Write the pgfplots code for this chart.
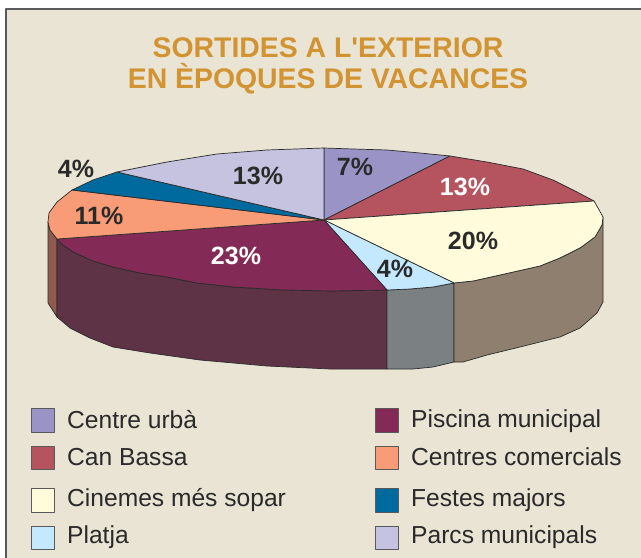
\documentclass[border=0pt]{standalone}
\usepackage{pgfplots}
\pgfplotsset{compat=1.18}
\usepackage{fontspec}
\setmainfont{Liberation Sans}
\definecolor{bg}{HTML}{E9E4D4}
\definecolor{cUrba}{HTML}{9A93C6}
\definecolor{cBassa}{HTML}{B5535E}
\definecolor{cCine}{HTML}{FFFBDB}
\definecolor{cPlatja}{HTML}{C4E8FD}
\definecolor{cPisc}{HTML}{832B56}
\definecolor{cCome}{HTML}{F89B77}
\definecolor{cFest}{HTML}{006A9E}
\definecolor{cParc}{HTML}{C6C3E1}
\definecolor{sPisc}{HTML}{5F3346}
\definecolor{sPlatja}{HTML}{7B8083}
\definecolor{sCine}{HTML}{8F7F6E}
\definecolor{sCome}{HTML}{905A4E}
\definecolor{titol}{HTML}{D29432}
\definecolor{tx}{HTML}{2A2A2A}
\definecolor{lin}{HTML}{2B2B2B}
\newcommand{\pct}[4]{\node[text=#4,font=\fontsize{25bp}{25bp}\selectfont\bfseries] at (axis cs:#1,#2) {#3};}
\newcommand{\leg}[3]{\node[anchor=west,text=tx,inner sep=0pt,font=\fontsize{24.6bp}{24.6bp}\selectfont] at (axis cs:#1,#2) {#3};}
\begin{document}
\begin{tikzpicture}
\begin{axis}[width=641bp,height=558bp,scale only axis,xmin=0,xmax=641,ymin=0,ymax=558,y dir=reverse,hide axis,
  every axis plot/.append style={draw=lin,line width=0.7bp,line join=round,mark=none}]
% page margin, keeps the full extent
\addplot[fill=white,draw=none] coordinates {(0,0) (641,0) (641,558) (0,558)} -- cycle;
% background panel
\addplot[fill=bg,draw=black!65,line width=1.4bp] coordinates {(6,9) (660,9) (660,580) (6,580)} -- cycle;
% side faces
\addplot[fill=sCome] coordinates {(48,222) (48,303) (57,317) (57,239) (50,230)} -- cycle;
\addplot[fill=sPisc] coordinates {(57,239) (63,245) (73,252) (93,261) (113,267) (140,273) (167,277) (197,283) (233,287) (283,290) (330,291) (387,290) (387,369) (330,369) (267,366) (200,360) (150,353) (113,347) (90,338) (70,328) (57,317)} -- cycle;
\addplot[fill=sPlatja] coordinates {(387,290) (410,289) (433,287) (454,283) (454,362) (433,367) (413,369) (387,369)} -- cycle;
\addplot[fill=sCine] coordinates {(454,283) (463,282) (473,281) (500,275) (540,266) (560,258) (580,248) (595,237) (602,225) (603,217) (603,302) (597,313) (580,328) (560,337) (520,347) (487,355) (463,362) (454,362)} -- cycle;
% top faces
\addplot[fill=cUrba] coordinates {(324,220) (324,148) (353,149) (387,150) (420,153) (450,156)} -- cycle;
\addplot[fill=cBassa] coordinates {(324,220) (450,156) (487,162) (523,169) (553,180) (577,192) (594,201)} -- cycle;
\addplot[fill=cCine] coordinates {(324,220) (594,201) (598,208) (603,217) (602,225) (595,237) (580,248) (560,258) (540,266) (500,275) (473,281) (463,282) (454,283)} -- cycle;
\addplot[fill=cPlatja] coordinates {(324,220) (454,283) (433,287) (410,289) (387,290)} -- cycle;
\addplot[fill=cPisc] coordinates {(324,220) (387,290) (330,291) (283,290) (233,287) (197,283) (167,277) (140,273) (113,267) (93,261) (73,252) (63,245) (57,239)} -- cycle;
\addplot[fill=cCome] coordinates {(324,220) (57,239) (50,230) (48,222) (49,213) (57,202) (72,190)} -- cycle;
\addplot[fill=cFest] coordinates {(324,220) (72,190) (93,180) (117,172)} -- cycle;
\addplot[fill=cParc] coordinates {(324,220) (117,172) (167,162) (217,154) (267,150) (324,148)} -- cycle;
% legend swatches
\addplot[fill=cUrba,draw=black!65] coordinates {(31,408) (54,408) (54,432) (31,432)} -- cycle;
\addplot[fill=cBassa,draw=black!65] coordinates {(31,446) (54,446) (54,469) (31,469)} -- cycle;
\addplot[fill=cCine,draw=black!65] coordinates {(31,488) (54,488) (54,512) (31,512)} -- cycle;
\addplot[fill=cPlatja,draw=black!65] coordinates {(31,526) (54,526) (54,549) (31,549)} -- cycle;
\addplot[fill=cPisc,draw=black!65] coordinates {(375,408) (398,408) (398,432) (375,432)} -- cycle;
\addplot[fill=cCome,draw=black!65] coordinates {(375,446) (398,446) (398,469) (375,469)} -- cycle;
\addplot[fill=cFest,draw=black!65] coordinates {(375,488) (398,488) (398,512) (375,512)} -- cycle;
\addplot[fill=cParc,draw=black!65] coordinates {(375,526) (398,526) (398,549) (375,549)} -- cycle;
% title
\node[text=titol,font=\fontsize{28.4bp}{28.4bp}\selectfont\bfseries] at (axis cs:328,48) {SORTIDES A L\textquotesingle EXTERIOR};
\node[text=titol,font=\fontsize{28.4bp}{28.4bp}\selectfont\bfseries] at (axis cs:328,79) {EN ÈPOQUES DE VACANCES};
% data labels
\pct{355}{167}{7\%}{tx}
\pct{465}{187}{13\%}{white}
\pct{473}{241}{20\%}{tx}
\pct{395}{269}{4\%}{tx}
\pct{236}{256}{23\%}{white}
\pct{99}{216}{11\%}{tx}
\pct{76}{169}{4\%}{tx}
\pct{258}{176}{13\%}{tx}
% legend text
\leg{67}{420}{Centre urbà}
\leg{67}{457}{Can Bassa}
\leg{67}{500}{Cinemes més sopar}
\leg{67}{537}{Platja}
\leg{411}{421}{Piscina municipal}
\leg{411}{457}{Centres comercials}
\leg{411}{500}{Festes majors}
\leg{411}{537}{Parcs municipals}
\end{axis}
\end{tikzpicture}
\end{document}
